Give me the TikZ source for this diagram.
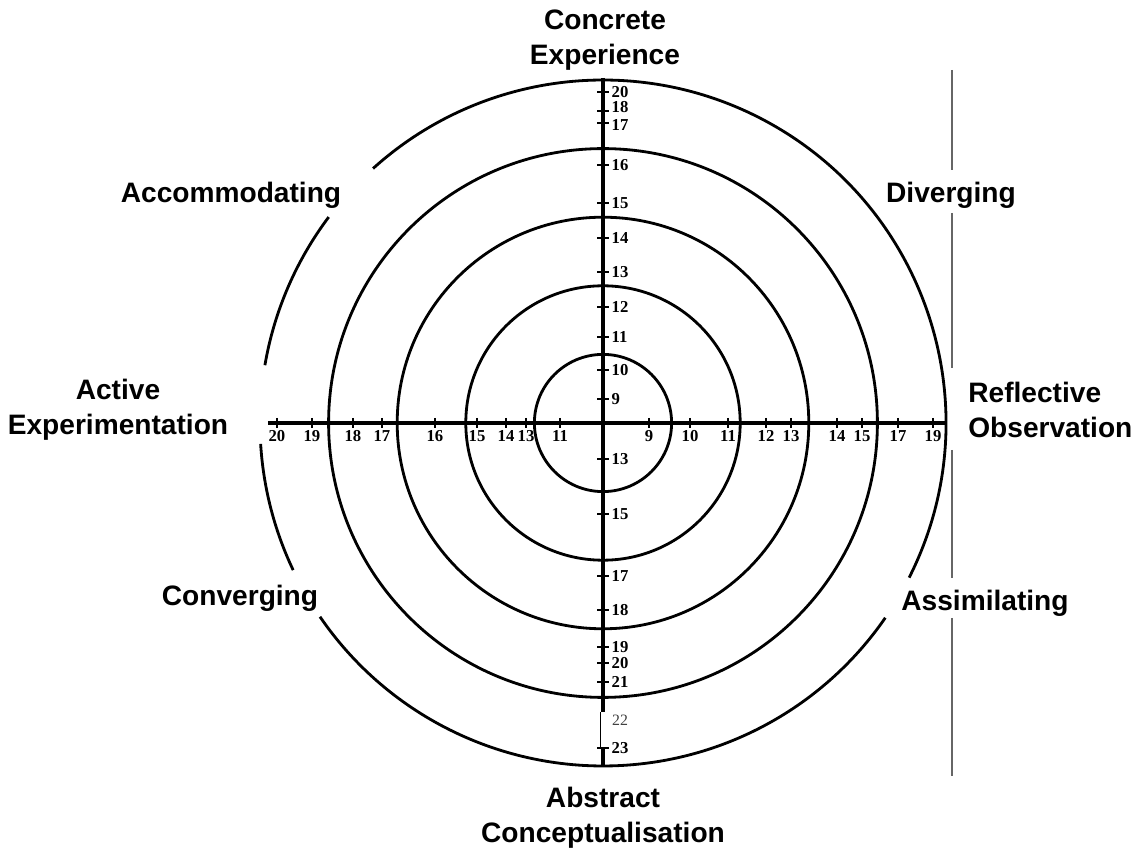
\documentclass[tikz,border=0pt]{standalone}
\usepackage{fontspec}
\newfontfamily\lblfont{Liberation Sans}
\newfontfamily\patchfont{Liberation Serif}
\usetikzlibrary{positioning}

\begin{document}
\begin{tikzpicture}[
 ring/.style={line width=1.6pt},
 ax/.style={line width=1.8pt},
 tk/.style={line width=1.1pt},
 nv/.style={right,inner sep=1pt,font=\patchfont\bfseries\fontsize{9.5}{11}\selectfont},
 nh/.style={below,inner sep=1pt,font=\patchfont\bfseries\fontsize{9.5}{11}\selectfont},
 mode/.style={font=\lblfont\bfseries\fontsize{16}{19.9}\selectfont,align=center,inner sep=0pt},
 sep/.style={draw=black!60,line width=0.8pt}]
\useasboundingbox (-12.06,-8.58) rectangle (10.72,8.46);
% rings
\draw[ring] (0,0) circle[radius=1.372];
\draw[ring] (0,0) circle[radius=2.744];
\draw[ring] (0,0) circle[radius=4.116];
\draw[ring] (0,0) circle[radius=5.488];
% outer ring, broken where the style names sit
\draw[ring] (-26.8:6.86) arc[start angle=-26.8,end angle=132.1,radius=6.86];
\draw[ring] (143.1:6.86) arc[start angle=143.1,end angle=170.3,radius=6.86];
\draw[ring] (183.5:6.86) arc[start angle=183.5,end angle=205.4,radius=6.86];
\draw[ring] (214.4:6.86) arc[start angle=214.4,end angle=325.4,radius=6.86];
% axes
\draw[ax] (0,6.9)--(0,-5.78);
\draw[line width=0.7pt] (-0.05,-5.78)--(-0.05,-6.5);
\draw[ax] (0,-6.5)--(0,-6.88);
\draw[ax] (-6.70,0)--(6.86,0);
% CE / AC scale
\draw[tk] (-0.12,6.62)--(0.12,6.62) node[nv] (c20) {20}; \draw[tk] (-0.12,6.24)--(0.12,6.24) node[nv,yshift=2pt] (c18) {18};
\draw[tk] (-0.12,6.00)--(0.12,6.00) node[nv,yshift=-1pt] (c17) {17}; \draw[tk] (-0.12,5.16)--(0.12,5.16) node[nv] (c16) {16};
\draw[tk] (-0.12,4.40)--(0.12,4.40) node[nv] (c15) {15}; \draw[tk] (-0.12,3.70)--(0.12,3.70) node[nv] (c14) {14};
\draw[tk] (-0.12,3.02)--(0.12,3.02) node[nv] (c13) {13}; \draw[tk] (-0.12,2.32)--(0.12,2.32) node[nv] (c12) {12};
\draw[tk] (-0.12,1.72)--(0.12,1.72) node[nv] (c11) {11}; \draw[tk] (-0.12,1.06)--(0.12,1.06) node[nv] (c10) {10};
\draw[tk] (-0.12,0.48)--(0.12,0.48) node[nv] (c9) {9};
\draw[tk] (-0.12,-0.72)--(0.12,-0.72) node[nv] (a13) {13}; \draw[tk] (-0.12,-1.82)--(0.12,-1.82) node[nv] (a15) {15};
\draw[tk] (-0.12,-3.06)--(0.12,-3.06) node[nv] (a17) {17}; \draw[tk] (-0.12,-3.74)--(0.12,-3.74) node[nv] (a18) {18};
\draw[tk] (-0.12,-4.48)--(0.12,-4.48) node[nv] (a19) {19}; \draw[tk] (-0.12,-4.80)--(0.12,-4.80) node[nv] (a20) {20};
\draw[tk] (-0.12,-5.18)--(0.12,-5.18) node[nv] (a21) {21};
\node[font=\patchfont\fontsize{9}{10}\selectfont,text=black!75] (a22) at (0.34,-5.94) {22};
\draw[tk] (-0.12,-6.50)--(0.12,-6.50) node[nv] (a23) {23};
% AE / RO scale
\draw[tk] (-6.52,0.1)--(-6.52,-0.1) node[nh] (e20) {20}; \draw[tk] (-5.82,0.1)--(-5.82,-0.1) node[nh] (e19) {19};
\draw[tk] (-5.00,0.1)--(-5.00,-0.1) node[nh] (e18) {18}; \draw[tk] (-4.42,0.1)--(-4.42,-0.1) node[nh] (e17) {17};
\draw[tk] (-3.36,0.1)--(-3.36,-0.1) node[nh] (e16) {16}; \draw[tk] (-2.52,0.1)--(-2.52,-0.1) node[nh] (e15) {15};
\draw[tk] (-1.94,0.1)--(-1.94,-0.1) node[nh] (e14) {14}; \draw[tk] (-1.54,0.1)--(-1.54,-0.1) node[nh] (e13) {13};
\draw[tk] (-0.86,0.1)--(-0.86,-0.1) node[nh] (e11) {11};
\draw[tk] (0.92,0.1)--(0.92,-0.1) node[nh] (r9) {9};   \draw[tk] (1.74,0.1)--(1.74,-0.1) node[nh] (r10) {10};
\draw[tk] (2.50,0.1)--(2.50,-0.1) node[nh] (r11) {11}; \draw[tk] (3.26,0.1)--(3.26,-0.1) node[nh] (r12) {12};
\draw[tk] (3.76,0.1)--(3.76,-0.1) node[nh] (r13) {13}; \draw[tk] (4.68,0.1)--(4.68,-0.1) node[nh] (r14) {14};
\draw[tk] (5.18,0.1)--(5.18,-0.1) node[nh] (r15) {15}; \draw[tk] (5.90,0.1)--(5.90,-0.1) node[nh] (r17) {17};
\draw[tk] (6.60,0.1)--(6.60,-0.1) node[nh] (r19) {19};
% grey rule on the right
\draw[sep] (6.98,7.06)--(6.98,5.06); \draw[sep] (6.98,4.20)--(6.98,1.10);
\draw[sep] (6.98,-0.54)--(6.98,-3.10); \draw[sep] (6.98,-3.90)--(6.98,-7.06);
% learning modes and styles
\node[mode] (ce) at (0.04,7.66) {Concrete\\Experience};
\node[mode] (ac) at (0,-7.90) {Abstract\\Conceptualisation};
\node[mode] (ae) at (-9.70,0.26) {Active\\Experimentation};
\node[mode,align=left,anchor=west] (ro) at (7.30,0.26) {Reflective\\Observation};
\node[mode] (acc) at (-7.44,4.56) {Accommodating};
\node[mode] (div) at (6.96,4.56) {Diverging};
\node[mode] (con) at (-7.26,-3.50) {Converging};
\node[mode] (ass) at (7.64,-3.60) {Assimilating};
\end{tikzpicture}
\end{document}
